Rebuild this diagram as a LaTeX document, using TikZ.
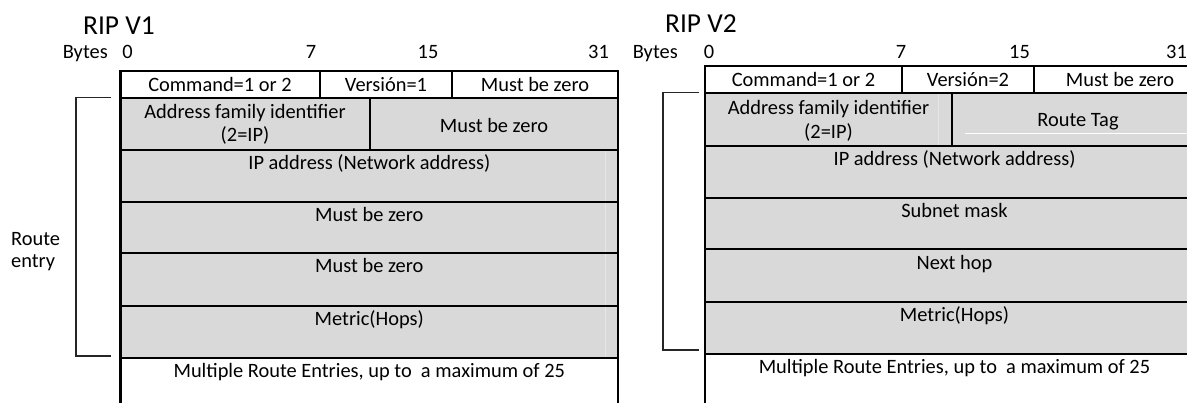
\documentclass[tikz,border=0pt]{standalone}
\usepackage{fontspec}
\setmainfont{Carlito}
\definecolor{cellgray}{HTML}{D9D9D9}
\definecolor{seamgray}{HTML}{E6E6E6}
\newcommand\cellfont{\fontsize{20.4}{24}\selectfont}
\newcommand\titlefont{\fontsize{27.4}{32}\selectfont}
\tikzset{
  txt/.style={font=\cellfont, inner sep=0pt, anchor=base},
  ttl/.style={font=\titlefont, inner sep=0pt, anchor=base west},
  rule/.style={line width=2.2pt, black},
  thinrule/.style={line width=1.8pt, black},
  bracket/.style={line width=1.5pt, black!85},
  seam/.style={line width=0.8pt, seamgray},
}
\begin{document}
\begin{tikzpicture}[x=1pt,y=-1pt]
\useasboundingbox (0,0) rectangle (1187,403);
\clip (0,0) rectangle (1187,403);

% ---------------- RIP version 1 ----------------
\fill[cellgray] (120.5,97.7) rectangle (618,357.7);
\draw[seam] (605,150) -- (605,357.7);
\draw[rule] (120.5,420) -- (120.5,71) -- (618,71) -- (618,420);
\foreach \y in {97.7,150,201.7,253.3,305.7,357.7}
  \draw[rule] (120.5,\y) -- (618,\y);
\draw[thinrule] (320,71) -- (320,97.7);
\draw[thinrule] (452,71) -- (452,97.7);
\draw[thinrule] (370,97.7) -- (370,150);

\node[ttl] (t1) at (83,35) {RIP V1};
\node[txt, anchor=base east] (by1) at (108,58.5) {Bytes};
\node[txt] (a0) at (127.5,58.5) {0};
\node[txt] (a7) at (311,58.5) {7};
\node[txt] (a15) at (428,58.5) {15};
\node[txt] (a31) at (598.5,58.5) {31};

\node[txt] (cmd1) at (220,91.5) {Command=1 or 2};
\node[txt] (ver1) at (386,91.5) {Versión=1};
\node[txt] (mz1a) at (535,91.5) {Must be zero};
\node[txt] (af1a) at (245,118.2) {Address family identifier};
\node[txt] (af1b) at (245,142) {(2=IP)};
\node[txt] (mz1b) at (494,133) {Must be zero};
\node[txt] (ip1) at (369.3,169.5) {IP address (Network address)};
\node[txt] (mz1c) at (369.3,221.2) {Must be zero};
\node[txt] (mz1d) at (369.3,272.8) {Must be zero};
\node[txt] (mt1) at (369.3,325.5) {Metric(Hops)};
\node[txt] (mr1) at (369.3,378) {Multiple Route Entries, up to\ \ a maximum of 25};

\node[txt, anchor=base west] (re1) at (11,246) {Route};
\node[txt, anchor=base west] (re2) at (11,268) {entry};
\coordinate (b1t) at (111,97.7);
\coordinate (b1b) at (111,356);
\draw[bracket] (b1t) -- ++(-35,0) |- (b1b);

% ---------------- RIP version 2 ----------------
\fill[cellgray] (705,92.7) rectangle (1204,354);
\draw[seam] (938,92.7) -- (938,146);
\draw[line width=0.8pt, white] (965,133) -- (1204,133);
\draw[rule] (705,420) -- (705,66) -- (1204,66) -- (1204,420);
\foreach \y in {92.7,146,197.7,249.3,301.7,354}
  \draw[rule] (705,\y) -- (1204,\y);
\draw[thinrule] (902,66) -- (902,92.7);
\draw[thinrule] (1034,66) -- (1034,92.7);
\draw[thinrule] (952,92.7) -- (952,146);

\node[ttl] (t2) at (665,33) {RIP V2};
\node[txt, anchor=base east] (by2) at (678,59) {Bytes};
\node[txt] (b0) at (709,59) {0};
\node[txt] (b7) at (901,59) {7};
\node[txt] (b15) at (1019.5,59) {15};
\node[txt] (b31) at (1176.5,59) {31};

\node[txt] (cmd2) at (803.5,86.5) {Command=1 or 2};
\node[txt] (ver2) at (968,86.5) {Versión=2};
\node[txt] (mz2a) at (1120,86.5) {Must be zero};
\node[txt] (af2a) at (828.5,114.5) {Address family identifier};
\node[txt] (af2b) at (828.5,138.5) {(2=IP)};
\node[txt] (rt2) at (1078,127) {Route Tag};
\node[txt] (ip2) at (954.5,166) {IP address (Network address)};
\node[txt] (sm2) at (954.5,217.7) {Subnet mask};
\node[txt] (nh2) at (954.5,269.3) {Next hop};
\node[txt] (mt2) at (954.5,321.7) {Metric(Hops)};
\node[txt] (mr2) at (954.5,374) {Multiple Route Entries, up to\ \ a maximum of 25};

\coordinate (b2t) at (699,92.7);
\coordinate (b2b) at (699,350);
\draw[bracket] (b2t) -- ++(-36,0) |- (b2b);
\end{tikzpicture}
\end{document}
